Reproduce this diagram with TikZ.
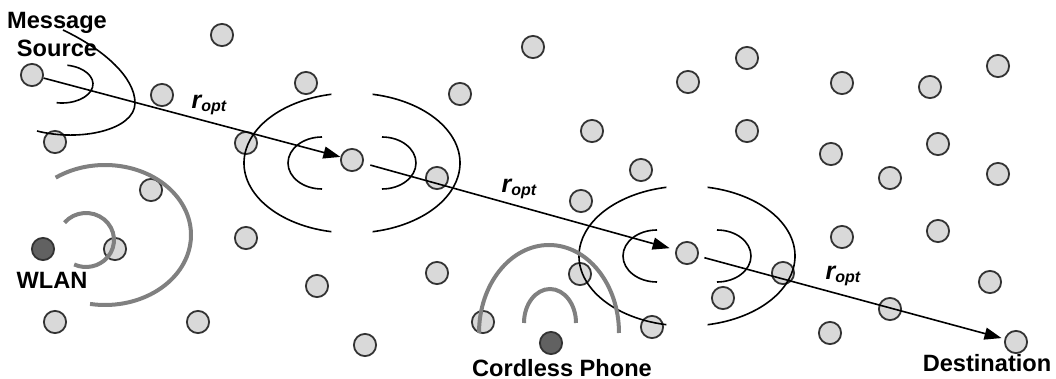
\documentclass[tikz,border=0pt]{standalone}
\usepackage{fontspec}
\setmainfont{Liberation Sans}
\usetikzlibrary{arrows.meta}

% hop distance label
\newcommand{\ropt}{\textbf{\textit{\fontsize{12.5}{14}\selectfont r\raisebox{-1.5pt}{\fontsize{8}{9}\selectfont opt}}}}

\begin{document}
\begin{tikzpicture}[x=0.5pt, y=-0.5pt,
		station/.style={circle, draw=black!80, fill=black!15, line width=0.9pt, minimum size=11.1pt, inner sep=0pt},
		darknode/.style={station, fill=black!62},
		wave/.style={line width=0.8pt},
		noise/.style={draw=black!50, line width=2pt},
		hop/.style={line width=0.8pt, -{Triangle[length=8.5pt,width=6pt]}},
		lbl/.style={font=\fontsize{11.8}{14}\selectfont, inner sep=0pt, align=center}]
				\useasboundingbox (0,0) rectangle (1056,379);
				
				% Nodes of the network
				\foreach \x/\y [count=\i] in {222/35, 162/95, 55/142, 246/143, 151/190, 115/249,
					246/238, 55/322, 198/322, 317/286, 306/83, 437/178, 460/94, 533/47, 437/273,
					365/345, 483/322, 580/274, 581/201, 592/131, 641/170, 652/327, 688/82, 747/58,
					747/131, 723/298, 783/273, 842/83, 831/154, 842/237, 890/178, 890/309, 930/87,
					938/144, 938/231, 998/66, 998/174, 990/282, 830/333}
					\node[station] (n\i) at (\x,\y) {};
				
				% Source, relays, destination
				\node[station] (src) at (32,75) {};
				\node[station] (relayA) at (352,160) {};
				\node[station] (relayB) at (687,253) {};
				\node[station] (dst) at (1016,342) {};
				
				% Interferers
				\node[darknode] (wlan) at (43,249) {};
				\node[darknode] (phone) at (551,343) {};
				
				% Source transmission
				\draw[wave] (62,84) ++(-80:31 and 19) arc (-80:100:31 and 19);
				\draw[wave] (63,30) .. controls (105,50) and (135,78) .. (135,103)
					.. controls (135,130) and (80,142) .. (37,131);
				
				% Relay transmissions
				\foreach \r in {relayA,relayB} {
					\draw[wave] (\r.center) ++(0,3) ++(101:108 and 70) arc (101:259:108 and 70);
					\draw[wave] (\r.center) ++(0,3) ++(-79:108 and 70) arc (-79:79:108 and 70);
					\draw[wave] (\r.center) ++(-30,3) ++(90:34 and 26) arc (90:270:34 and 26);
					\draw[wave] (\r.center) ++(30,3) ++(-90:34 and 26) arc (-90:90:34 and 26);
				}
				
				% WLAN
				\draw[noise] (86,240) ++(-140:28 and 27) arc (-140:115:28 and 27);
				\draw[noise] (105,235) ++(-125:86 and 70) arc (-125:100:86 and 70);
				
				% Cordless phone
				\draw[noise] (550,323) ++(180:26 and 34) arc (180:360:26 and 34);
				\draw[noise] (549,333) ++(180:70 and 88) arc (180:360:70 and 88);
				
				% Hops
				\draw[hop] (src) -- (relayA);
				\draw[hop, shorten <=3.5pt, shorten >=3pt] (relayA) -- (relayB);
				\draw[hop, shorten <=3pt, shorten >=1.5pt] (relayB) -- (dst);
				\node (roptA) at (209,105) {\ropt};
				\node (roptB) at (519,189) {\ropt};
				\node (roptC) at (843,276) {\ropt};
				
				% Labels
				\node[lbl] (srclbl) at (57,35) {\textbf{Message}\\\textbf{Source}};
				\node[lbl] (wlanlbl) at (52,280) {\textbf{WLAN}};
				\node[lbl] (phonelbl) at (562,368) {\textbf{Cordless Phone}};
				\node[lbl] (dstlbl) at (987,363) {\textbf{Destination}};
			\end{tikzpicture}
\end{document}
